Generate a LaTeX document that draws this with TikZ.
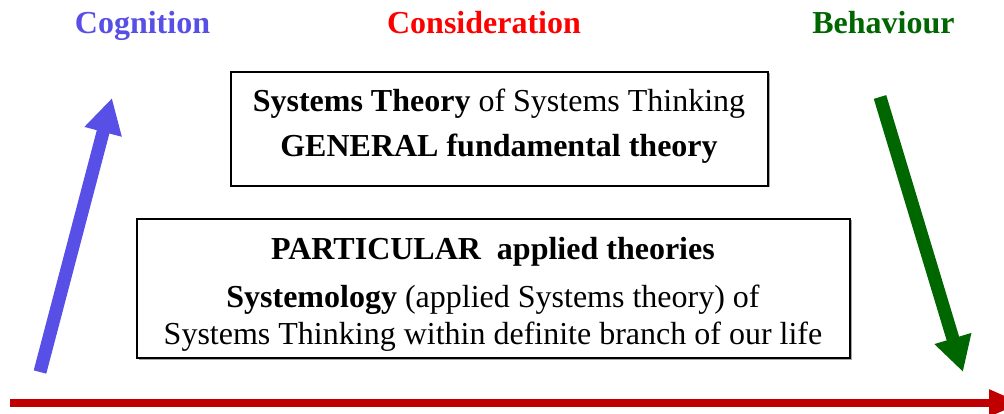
\documentclass[tikz,border=0pt]{standalone}
\usepackage{fontspec}
\setmainfont{Liberation Serif}
\usetikzlibrary{arrows.meta,shadows}
\definecolor{cogblue}{RGB}{88,80,230}
\definecolor{consred}{RGB}{255,0,0}
\definecolor{behgreen}{RGB}{0,102,0}
\definecolor{axisred}{RGB}{192,0,0}
\tikzset{
  txt/.style={anchor=base, inner sep=0pt, font=\fontsize{32}{38}\selectfont},
  head/.style={txt, font=\fontsize{32}{38}\selectfont\bfseries},
  box/.style={draw=black, line width=1.1pt, fill=white, inner sep=0pt,
     drop shadow={shadow xshift=1.5pt, shadow yshift=-1.5pt, fill=gray!70, opacity=1}},
  bigarrow/.style={line width=13pt, -{Triangle[length=35pt,width=36pt]}},
}
\begin{document}
\begin{tikzpicture}[x=1pt,y=-1pt]
\useasboundingbox (0,0) rectangle (1004,414);
% headings
\node[head, text=cogblue] (cog) at (142.5,34) {Cognition};
\node[head, text=consred] (cons) at (484,34) {Consideration};
\node[head, text=behgreen] (beh) at (883.5,34) {Behaviour};
% boxes
\node[box, minimum width=537pt, minimum height=114pt] (b1) at (499.5,129) {};
\node[box, minimum width=713pt, minimum height=139pt] (b2) at (493.5,288.5) {};
\node[txt] (t11) at (499,112) {\textbf{Systems Theory} of Systems Thinking};
\node[txt] (t12) at (499,157) {\textbf{GENERAL fundamental theory}};
\node[txt] (t21) at (493,259) {\textbf{PARTICULAR\ \ applied theories}};
\node[txt] (t22) at (493,307) {\textbf{Systemology} (applied Systems theory) of};
\node[txt] (t23) at (493,344) {Systems Thinking within definite branch of our life};
% arrows
\coordinate (bs) at (40,372);
\coordinate (be) at (112,98);
\coordinate (gs) at (880,97);
\coordinate (ge) at (963,372);
\coordinate (rs) at (10,403);
\coordinate (re) at (1022,403);
\draw[bigarrow, draw=cogblue, fill=cogblue] (bs) -- (be);
\draw[bigarrow, draw=behgreen, fill=behgreen] (gs) -- (ge);
\draw[line width=8pt, draw=axisred, -{Triangle[length=33pt,width=25pt]}] (rs) -- (re);
\end{tikzpicture}
\end{document}
